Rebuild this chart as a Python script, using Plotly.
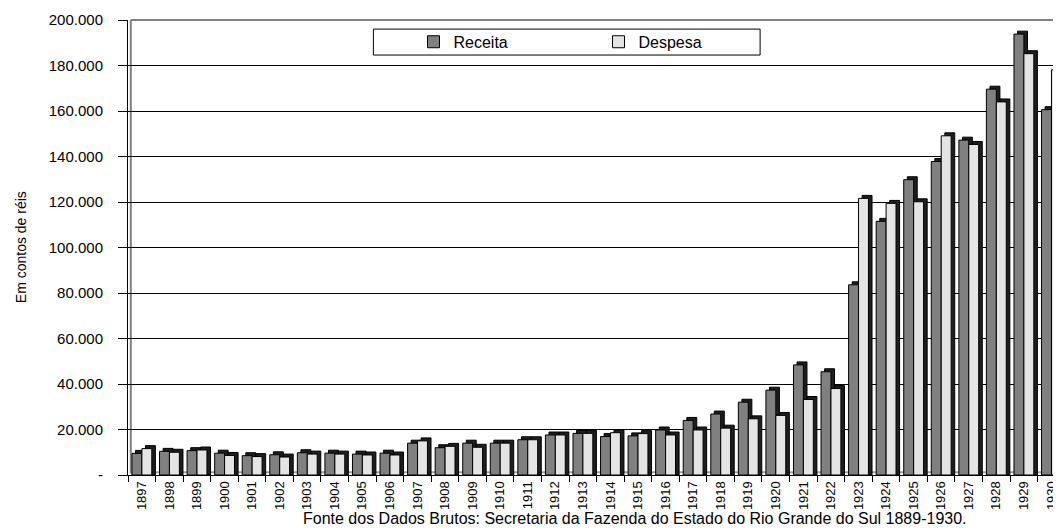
import plotly.graph_objects as go

# ---- data (contos de réis) ----
years = [str(y) for y in range(1897, 1931)]
receita = [9500, 10400, 10700, 9600, 8500, 8900, 9800, 9600, 9200, 9600,
           14000, 12000, 14000, 14000, 15500, 17600, 18300, 16900, 17200, 19800,
           24000, 26800, 32000, 37300, 48400, 45400, 83600, 111500, 129800, 137800,
           147200, 169600, 193800, 160600]
despesa = [11600, 10000, 11000, 8600, 8100, 7900, 9200, 9200, 8800, 8800,
           15000, 12600, 12200, 14000, 15500, 17600, 18300, 18600, 18200, 17600,
           19800, 20600, 24700, 26200, 33200, 38000, 121600, 119400, 120100, 149100,
           145300, 164000, 185200, 178100]
y_tickvals = [0, 20000, 40000, 60000, 80000, 100000, 120000, 140000, 160000, 180000, 200000]
y_ticktext = ["-", "20.000", "40.000", "60.000", "80.000", "100.000", "120.000",
              "140.000", "160.000", "180.000", "200.000"]

FONT = "Liberation Sans, Arial, sans-serif"
DEPTH_Y = 1300
DEPTH_X = 0.13
BAR_W = 0.36
R_OFF = -0.356
D_OFF = 0.004

fig = go.Figure()
fig.add_bar(x=years, y=[v + DEPTH_Y for v in receita], offset=R_OFF + DEPTH_X, width=BAR_W,
            marker=dict(color="#1e1e1e", line=dict(color="#000000", width=1)),
            showlegend=False, hoverinfo="skip")
fig.add_bar(x=years, y=receita, offset=R_OFF, width=BAR_W, name="Receita",
            marker=dict(color="#808080", line=dict(color="#000000", width=1)))
fig.add_bar(x=years, y=[v + DEPTH_Y for v in despesa], offset=D_OFF + DEPTH_X, width=BAR_W,
            marker=dict(color="#1e1e1e", line=dict(color="#000000", width=1)),
            showlegend=False, hoverinfo="skip")
fig.add_bar(x=years, y=despesa, offset=D_OFF, width=BAR_W, name="Despesa",
            marker=dict(color="#e4e4e4", line=dict(color="#000000", width=1)))

# page body has an 8px margin: figure is sized/placed to compensate
fig.update_layout(
    width=1053, height=524, autosize=False,
    margin=dict(l=120, r=0, t=12, b=57),
    paper_bgcolor="white", plot_bgcolor="white",
    barmode="overlay",
    font=dict(family=FONT, color="#000000"),
    xaxis=dict(type="category", range=[-0.5, 33.35], automargin=False,
               showline=True, linecolor="#000000",
               linewidth=1, ticks="outside", ticklen=6, tickcolor="#000000",
               tickson="boundaries", tickangle=-90, tickfont=dict(size=13, family=FONT),
               showgrid=False),
    yaxis=dict(range=[0, 200000], tickvals=y_tickvals, ticktext=y_ticktext, automargin=False,
               showline=True, linecolor="#000000", linewidth=1, ticks="outside",
               ticklen=9, tickcolor="#000000", tickfont=dict(size=15, family=FONT),
               ticklabelstandoff=12,
               showgrid=True, gridcolor="#000000", gridwidth=1, zeroline=False),
    legend=dict(orientation="h", x=0.306, xanchor="left", y=0.952, yanchor="middle",
                bgcolor="rgba(0,0,0,0)", borderwidth=0, entrywidth=140,
                font=dict(size=16, family=FONT)),
    shapes=[
        dict(type="rect", xref="paper", yref="paper", x0=0.263, x1=0.6775, y0=0.923, y1=0.980,
             fillcolor="white", line=dict(color="#000000", width=1), layer="above"),
        dict(type="line", xref="paper", yref="paper", x0=0.003, x1=0.003, y0=0.003, y1=1,
             line=dict(color="#808080", width=2), layer="below"),
        dict(type="line", xref="paper", yref="paper", x0=0.003, x1=1, y0=1, y1=1,
             line=dict(color="#808080", width=2), layer="below"),
        dict(type="line", xref="paper", yref="paper", x0=0.003, x1=1, y0=0.006, y1=0.006,
             line=dict(color="#a0a0a0", width=2), layer="below"),
    ],
    annotations=[
        dict(text="Em contos de réis", xref="paper", yref="paper", x=-0.115, y=0.5,
             textangle=-90, showarrow=False, font=dict(size=14, family=FONT),
             xanchor="center", yanchor="middle"),
        dict(text="Fonte dos Dados Brutos: Secretaria da Fazenda do Estado do Rio Grande do Sul 1889-1930.",
             xref="paper", yref="paper", x=0.5436, y=-0.0967, showarrow=False,
             font=dict(size=16, family=FONT), xanchor="center", yanchor="middle"),
    ],
)

fig.write_html("out.html")
